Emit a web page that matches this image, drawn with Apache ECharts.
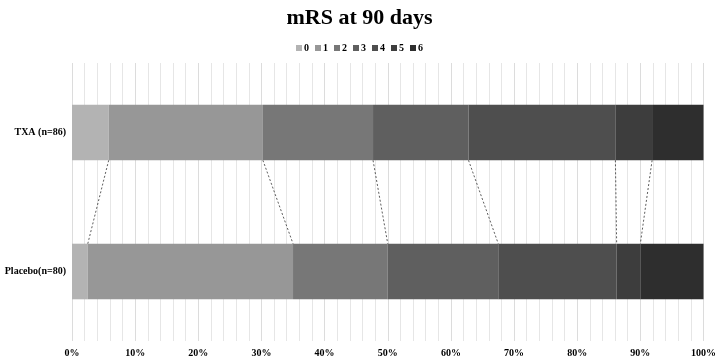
<!DOCTYPE html>
<html><head><meta charset="utf-8">
<script src="https://cdn.jsdelivr.net/npm/echarts@6/dist/echarts.min.js"></script>
<style>html,body{margin:0;padding:0;background:#fff}#c{width:719px;height:360px}</style>
</head><body><div id="c"></div>
<script>
const categories = ['Placebo(n=80)', 'TXA (n=86)'];
const scoreNames = ['0', '1', '2', '3', '4', '5', '6'];
// percentages per mRS score, [Placebo, TXA]
const mrs0 = [2.5, 5.81];
const mrs1 = [32.5, 24.42];
const mrs2 = [15.0, 17.44];
const mrs3 = [17.5, 15.12];
const mrs4 = [18.75, 23.26];
const mrs5 = [3.75, 5.81];
const mrs6 = [10.0, 8.14];
const xTicks = [0, 10, 20, 30, 40, 50, 60, 70, 80, 90, 100];
const colors = ['#b3b3b3', '#979797', '#777777', '#5f5f5f', '#4e4e4e', '#3d3d3d', '#2e2e2e'];

const allSeries = [mrs0, mrs1, mrs2, mrs3, mrs4, mrs5, mrs6];
// cumulative boundaries for the connecting dashed lines
const connectors = [];
let cp = 0, ct = 0;
for (let i = 0; i < allSeries.length - 1; i++) {
  cp += allSeries[i][0]; ct += allSeries[i][1];
  connectors.push([ct, cp]);
}
const font = '"Liberation Serif", "Times New Roman", serif';
const chart = echarts.init(document.getElementById('c'));
const series = allSeries.map((d, i) => ({
  name: scoreNames[i], type: 'bar', stack: 'all', data: d, barWidth: '40%',
  itemStyle: { color: colors[i] }, z: 2
}));
series.push({
  type: 'custom', name: 'conn', silent: true, z: 3,
  data: connectors,
  renderItem: function (params, api) {
    const band = api.size([0, 1])[1];
    const half = band * 0.2;
    const top = api.coord([api.value(0), 1]);
    const bot = api.coord([api.value(1), 0]);
    return {
      type: 'line',
      shape: { x1: top[0], y1: top[1] + half, x2: bot[0], y2: bot[1] - half },
      style: { stroke: '#333', lineWidth: 0.8, lineDash: [2, 2] }
    };
  }
});
chart.setOption({
  animation: false,
  title: { text: 'mRS at 90 days', left: 'center', top: 2,
    textStyle: { fontFamily: font, fontSize: 22, fontWeight: 'bold', color: '#000' } },
  legend: { data: scoreNames, top: 38, left: 'center', itemWidth: 6, itemHeight: 6, itemGap: 6,
    icon: 'rect',
    textStyle: { fontFamily: font, fontSize: 10, fontWeight: 'bold', color: '#000', padding: [0, 0, 0, -3] } },
  grid: { left: 72, right: 15, top: 63, bottom: 19, containLabel: false },
  xAxis: {
    type: 'value', min: xTicks[0], max: xTicks[xTicks.length - 1], interval: 10,
    axisLine: { show: false }, axisTick: { show: false },
    axisLabel: { formatter: '{value}%', fontFamily: font, fontSize: 10, fontWeight: 'bold', color: '#000', margin: 7 },
    splitLine: { show: true, lineStyle: { color: '#dcdcdc', width: 1 } },
    minorTick: { show: false, splitNumber: 5 },
    minorSplitLine: { show: true, lineStyle: { color: '#e6e6e6', width: 1 } }
  },
  yAxis: {
    type: 'category', data: categories,
    axisLine: { show: false }, axisTick: { show: false },
    axisLabel: { fontFamily: font, fontSize: 10, fontWeight: 'bold', color: '#000', margin: 6 }
  },
  series: series
});
</script></body></html>
